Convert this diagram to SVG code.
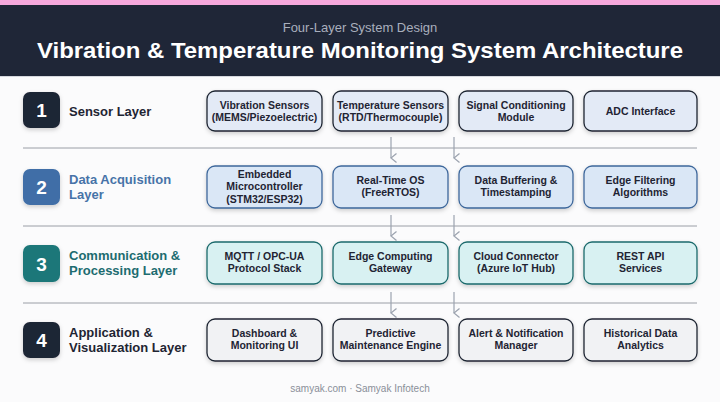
<svg xmlns="http://www.w3.org/2000/svg" width="720" height="402" viewBox="0 0 720 402">
<defs>
<filter id="sh" x="-20%" y="-20%" width="140%" height="160%">
<feDropShadow dx="0" dy="2" stdDeviation="2" flood-color="#000" flood-opacity="0.18"/>
</filter>
<marker id="ah" viewBox="0 0 10 10" refX="5" refY="9" markerWidth="10" markerHeight="10" orient="auto-start-reverse" markerUnits="userSpaceOnUse">
<path d="M0.5,3.5 L5,9 L9.5,3.5" fill="none" stroke="#9ca3af" stroke-width="1.2"/>
</marker>
<style>
text{font-family:"Liberation Sans",Arial,sans-serif}
.sub{font-size:13px;fill:#a9afbd}
.title{font-size:22px;font-weight:700;fill:#ffffff}
.num{font-size:19px;font-weight:700;fill:#ffffff}
.lbl{font-size:13px;font-weight:700}
.nt{font-size:10.5px;font-weight:700;fill:#1f2433}
.sep{stroke:#9a9ea6;stroke-width:1}
.arr{stroke:#9ca3af;stroke-width:1.2;fill:none}
.n1{fill:#e3eaf6;stroke:#1f2533;stroke-width:1.3}
.n2{fill:#dae7f6;stroke:#3e679b;stroke-width:1.3}
.n3{fill:#d8f1f2;stroke:#1b6a6c;stroke-width:1.3}
.n4{fill:#f1f2f4;stroke:#1f2533;stroke-width:1.3}
.foot{font-size:10px;fill:#8a8f99}
</style>
</defs>
<rect x="0" y="0" width="720" height="402" fill="#fbfbfc"/>
<rect x="0" y="0" width="720" height="5" fill="#f6a8dc"/>
<rect x="0" y="5" width="720" height="71" fill="#1f2637"/>
<rect x="0" y="76" width="720" height="1" fill="#d5d8de"/>
<text class="sub" x="360" y="31.5" text-anchor="middle">Four-Layer System Design</text>
<text class="title" x="360" y="57.5" text-anchor="middle" textLength="646" lengthAdjust="spacingAndGlyphs">Vibration &amp; Temperature Monitoring System Architecture</text>

<g id="connectors">
<line class="sep" x1="23" y1="148" x2="697" y2="148"/>
<line class="sep" x1="23" y1="226" x2="697" y2="226"/>
<line class="sep" x1="23" y1="303" x2="697" y2="303"/>
<line class="arr" x1="391" y1="137" x2="391" y2="158" marker-end="url(#ah)"/>
<line class="arr" x1="454" y1="137" x2="454" y2="158" marker-end="url(#ah)"/>
<line class="arr" x1="391" y1="215" x2="391" y2="236" marker-end="url(#ah)"/>
<line class="arr" x1="454" y1="215" x2="454" y2="236" marker-end="url(#ah)"/>
<line class="arr" x1="391" y1="292" x2="391" y2="313" marker-end="url(#ah)"/>
<line class="arr" x1="454" y1="292" x2="454" y2="313" marker-end="url(#ah)"/>
</g>

<!-- Layer 1 -->
<g id="layer1">
<rect x="23" y="92" width="37" height="36" rx="7" fill="#1e2535" filter="url(#sh)"/>
<text class="num" x="41.5" y="117" text-anchor="middle">1</text>
<text class="lbl" x="69" y="115.5" fill="#1f2533">Sensor Layer</text>
</g>
<g id="n1a"><rect class="n1" x="207" y="91" width="115" height="40" rx="8" filter="url(#sh)"/>
<text class="nt" text-anchor="middle"><tspan x="264.5" y="108.5">Vibration Sensors</tspan><tspan x="264.5" y="120.5">(MEMS/Piezoelectric)</tspan></text></g>
<g id="n1b"><rect class="n1" x="333" y="91" width="115" height="40" rx="8" filter="url(#sh)"/>
<text class="nt" text-anchor="middle"><tspan x="390.5" y="108.5">Temperature Sensors</tspan><tspan x="390.5" y="120.5">(RTD/Thermocouple)</tspan></text></g>
<g id="n1c"><rect class="n1" x="459" y="91" width="114" height="40" rx="8" filter="url(#sh)"/>
<text class="nt" text-anchor="middle"><tspan x="516" y="108.5">Signal Conditioning</tspan><tspan x="516" y="120.5">Module</tspan></text></g>
<g id="n1d"><rect class="n1" x="584" y="91" width="113" height="40" rx="8" filter="url(#sh)"/>
<text class="nt" x="640.5" y="114.5" text-anchor="middle">ADC Interface</text></g>

<!-- Layer 2 -->
<g id="layer2">
<rect x="23" y="169" width="37" height="36" rx="7" fill="#3f6ea7" filter="url(#sh)"/>
<text class="num" x="41.5" y="194" text-anchor="middle">2</text>
<text class="lbl" fill="#4773a8"><tspan x="69" y="183.5">Data Acquisition</tspan><tspan x="69" y="198.5">Layer</tspan></text>
</g>
<g id="n2a"><rect class="n2" x="207" y="166" width="115" height="42" rx="8" filter="url(#sh)"/>
<text class="nt" text-anchor="middle"><tspan x="264.5" y="177.5">Embedded</tspan><tspan x="264.5" y="190">Microcontroller</tspan><tspan x="264.5" y="202.5">(STM32/ESP32)</tspan></text></g>
<g id="n2b"><rect class="n2" x="333" y="166" width="115" height="42" rx="8" filter="url(#sh)"/>
<text class="nt" text-anchor="middle"><tspan x="390.5" y="184">Real-Time OS</tspan><tspan x="390.5" y="196">(FreeRTOS)</tspan></text></g>
<g id="n2c"><rect class="n2" x="459" y="166" width="114" height="42" rx="8" filter="url(#sh)"/>
<text class="nt" text-anchor="middle"><tspan x="516" y="184">Data Buffering &amp;</tspan><tspan x="516" y="196">Timestamping</tspan></text></g>
<g id="n2d"><rect class="n2" x="584" y="166" width="113" height="42" rx="8" filter="url(#sh)"/>
<text class="nt" text-anchor="middle"><tspan x="640.5" y="184">Edge Filtering</tspan><tspan x="640.5" y="196">Algorithms</tspan></text></g>

<!-- Layer 3 -->
<g id="layer3">
<rect x="23" y="245" width="37" height="37" rx="7" fill="#1f7779" filter="url(#sh)"/>
<text class="num" x="41.5" y="270.5" text-anchor="middle">3</text>
<text class="lbl" fill="#1d6c70"><tspan x="69" y="260">Communication &amp;</tspan><tspan x="69" y="275">Processing Layer</tspan></text>
</g>
<g id="n3a"><rect class="n3" x="207" y="242" width="115" height="42" rx="8" filter="url(#sh)"/>
<text class="nt" text-anchor="middle"><tspan x="264.5" y="260">MQTT / OPC-UA</tspan><tspan x="264.5" y="272">Protocol Stack</tspan></text></g>
<g id="n3b"><rect class="n3" x="333" y="242" width="115" height="42" rx="8" filter="url(#sh)"/>
<text class="nt" text-anchor="middle"><tspan x="390.5" y="260">Edge Computing</tspan><tspan x="390.5" y="272">Gateway</tspan></text></g>
<g id="n3c"><rect class="n3" x="459" y="242" width="114" height="42" rx="8" filter="url(#sh)"/>
<text class="nt" text-anchor="middle"><tspan x="516" y="260">Cloud Connector</tspan><tspan x="516" y="272">(Azure IoT Hub)</tspan></text></g>
<g id="n3d"><rect class="n3" x="584" y="242" width="113" height="42" rx="8" filter="url(#sh)"/>
<text class="nt" text-anchor="middle"><tspan x="640.5" y="260">REST API</tspan><tspan x="640.5" y="272">Services</tspan></text></g>

<!-- Layer 4 -->
<g id="layer4">
<rect x="23" y="322" width="37" height="36" rx="7" fill="#1e2535" filter="url(#sh)"/>
<text class="num" x="41.5" y="347" text-anchor="middle">4</text>
<text class="lbl" fill="#1f2533"><tspan x="69" y="337">Application &amp;</tspan><tspan x="69" y="352">Visualization Layer</tspan></text>
</g>
<g id="n4a"><rect class="n4" x="207" y="319" width="115" height="42" rx="8" filter="url(#sh)"/>
<text class="nt" text-anchor="middle"><tspan x="264.5" y="337">Dashboard &amp;</tspan><tspan x="264.5" y="349">Monitoring UI</tspan></text></g>
<g id="n4b"><rect class="n4" x="333" y="319" width="115" height="42" rx="8" filter="url(#sh)"/>
<text class="nt" text-anchor="middle"><tspan x="390.5" y="337">Predictive</tspan><tspan x="390.5" y="349">Maintenance Engine</tspan></text></g>
<g id="n4c"><rect class="n4" x="459" y="319" width="114" height="42" rx="8" filter="url(#sh)"/>
<text class="nt" text-anchor="middle"><tspan x="516" y="337">Alert &amp; Notification</tspan><tspan x="516" y="349">Manager</tspan></text></g>
<g id="n4d"><rect class="n4" x="584" y="319" width="113" height="42" rx="8" filter="url(#sh)"/>
<text class="nt" text-anchor="middle"><tspan x="640.5" y="337">Historical Data</tspan><tspan x="640.5" y="349">Analytics</tspan></text></g>

<text class="foot" x="360" y="392" text-anchor="middle">samyak.com · Samyak Infotech</text>
</svg>
